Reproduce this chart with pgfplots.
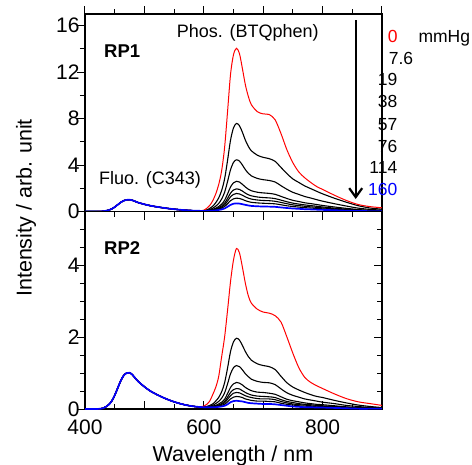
\documentclass[border=0pt]{standalone}
\usepackage{fontspec}
\setmainfont{Liberation Sans}
\usepackage{pgfplots}
\usepackage{pgfplotstable}
\pgfplotsset{compat=1.18}
\usepgfplotslibrary{groupplots}
\usetikzlibrary{arrows.meta}

% RP1: r = 0 mmHg, a..f = 7.6, 19, 38, 57, 76, 114 mmHg, g = 160 mmHg
\pgfplotstableread{
wl r a b c d e f g
400 0 0 0 0 0 0 0 0
420 0 0 0 0 0 0 0 0
430 0.02 0.02 0.02 0.02 0.02 0.02 0.02 0.02
435 0.06 0.06 0.06 0.06 0.06 0.06 0.06 0.06
440 0.12 0.12 0.12 0.12 0.12 0.12 0.12 0.12
445 0.22 0.22 0.22 0.22 0.22 0.22 0.22 0.22
450 0.38 0.38 0.38 0.38 0.38 0.38 0.38 0.38
455 0.58 0.58 0.58 0.58 0.58 0.58 0.58 0.58
460 0.78 0.78 0.78 0.78 0.78 0.78 0.78 0.78
465 0.93 0.93 0.93 0.93 0.93 0.93 0.93 0.93
470 1.00 1.00 1.00 1.00 1.00 1.00 1.00 1.00
475 1.02 1.02 1.02 1.02 1.02 1.02 1.02 1.02
480 0.96 0.96 0.96 0.96 0.96 0.96 0.96 0.96
485 0.86 0.86 0.86 0.86 0.86 0.86 0.86 0.86
490 0.76 0.76 0.76 0.76 0.76 0.76 0.76 0.76
500 0.62 0.62 0.62 0.62 0.62 0.62 0.62 0.62
510 0.50 0.50 0.50 0.50 0.50 0.50 0.50 0.50
520 0.41 0.41 0.41 0.41 0.41 0.41 0.41 0.41
530 0.33 0.33 0.33 0.33 0.33 0.33 0.33 0.33
540 0.26 0.26 0.26 0.26 0.26 0.26 0.26 0.26
550 0.20 0.20 0.20 0.20 0.20 0.20 0.20 0.20
560 0.15 0.15 0.15 0.15 0.15 0.15 0.15 0.15
570 0.11 0.11 0.11 0.11 0.11 0.11 0.11 0.11
580 0.08 0.08 0.08 0.08 0.08 0.08 0.08 0.08
590 0.06 0.06 0.06 0.06 0.06 0.06 0.06 0.06
600 0.10 0.09 0.07 0.06 0.06 0.06 0.06 0.05
605 0.28 0.14 0.10 0.08 0.07 0.07 0.06 0.05
610 0.52 0.27 0.17 0.12 0.10 0.09 0.07 0.06
615 0.92 0.45 0.28 0.18 0.14 0.12 0.10 0.07
620 1.50 0.75 0.45 0.28 0.22 0.18 0.14 0.10
625 2.30 1.16 0.69 0.42 0.32 0.26 0.20 0.13
630 3.50 1.80 1.07 0.63 0.48 0.38 0.29 0.18
635 5.50 2.80 1.65 0.96 0.72 0.57 0.43 0.26
640 8.60 4.40 2.58 1.51 1.13 0.90 0.67 0.41
645 11.80 6.14 3.60 2.11 1.58 1.26 0.93 0.57
650 13.50 7.20 4.23 2.47 1.85 1.47 1.09 0.67
655 14.05 7.58 4.45 2.60 1.95 1.55 1.15 0.70
660 13.60 7.39 4.34 2.54 1.90 1.51 1.12 0.68
665 12.30 6.82 4.00 2.34 1.76 1.40 1.04 0.63
670 10.90 6.14 3.60 2.11 1.58 1.26 0.93 0.57
675 9.90 5.61 3.29 1.92 1.44 1.15 0.85 0.52
680 9.20 5.23 3.07 1.79 1.35 1.07 0.79 0.48
690 8.60 4.85 2.85 1.66 1.25 0.99 0.74 0.45
700 8.40 4.66 2.74 1.60 1.20 0.95 0.71 0.43
710 8.35 4.55 2.67 1.56 1.17 0.93 0.69 0.42
720 7.90 4.32 2.54 1.48 1.11 0.88 0.66 0.40
730 6.70 3.79 2.22 1.30 0.98 0.78 0.58 0.35
740 5.30 3.26 1.91 1.12 0.84 0.67 0.49 0.30
750 4.20 2.80 1.65 0.96 0.72 0.57 0.43 0.26
760 3.40 2.50 1.47 0.86 0.64 0.51 0.38 0.23
770 2.90 2.20 1.29 0.75 0.57 0.45 0.33 0.20
780 2.50 1.97 1.16 0.68 0.51 0.40 0.30 0.18
790 2.15 1.74 1.02 0.60 0.45 0.36 0.26 0.16
800 1.90 1.52 0.89 0.52 0.39 0.31 0.23 0.14
820 1.40 1.14 0.67 0.39 0.29 0.23 0.17 0.11
840 0.95 0.80 0.47 0.27 0.20 0.16 0.12 0.07
860 0.60 0.50 0.29 0.17 0.13 0.10 0.08 0.05
880 0.42 0.30 0.18 0.10 0.08 0.06 0.05 0.03
900 0.32 0.20 0.12 0.07 0.05 0.04 0.03 0.02
}\rpone

% RP2, same columns
\pgfplotstableread{
wl r a b c d e f g
400 0 0 0 0 0 0 0 0
420 0 0 0 0 0 0 0 0
430 0.02 0.02 0.02 0.02 0.02 0.02 0.02 0.02
435 0.06 0.06 0.06 0.06 0.06 0.06 0.06 0.06
440 0.12 0.12 0.12 0.12 0.12 0.12 0.12 0.12
445 0.22 0.22 0.22 0.22 0.22 0.22 0.22 0.22
450 0.38 0.38 0.38 0.38 0.38 0.38 0.38 0.38
455 0.58 0.58 0.58 0.58 0.58 0.58 0.58 0.58
460 0.78 0.78 0.78 0.78 0.78 0.78 0.78 0.78
465 0.93 0.93 0.93 0.93 0.93 0.93 0.93 0.93
470 1.00 1.00 1.00 1.00 1.00 1.00 1.00 1.00
475 1.01 1.01 1.01 1.01 1.01 1.01 1.01 1.01
480 0.95 0.95 0.95 0.95 0.95 0.95 0.95 0.95
485 0.85 0.85 0.85 0.85 0.85 0.85 0.85 0.85
490 0.76 0.76 0.76 0.76 0.76 0.76 0.76 0.76
500 0.62 0.62 0.62 0.62 0.62 0.62 0.62 0.62
510 0.50 0.50 0.50 0.50 0.50 0.50 0.50 0.50
520 0.41 0.41 0.41 0.41 0.41 0.41 0.41 0.41
530 0.33 0.33 0.33 0.33 0.33 0.33 0.33 0.33
540 0.26 0.26 0.26 0.26 0.26 0.26 0.26 0.26
550 0.20 0.20 0.20 0.20 0.20 0.20 0.20 0.20
560 0.15 0.15 0.15 0.15 0.15 0.15 0.15 0.15
570 0.11 0.11 0.11 0.11 0.11 0.11 0.11 0.11
580 0.08 0.08 0.08 0.08 0.08 0.08 0.08 0.08
590 0.06 0.06 0.06 0.06 0.06 0.06 0.06 0.06
600 0.08 0.06 0.06 0.05 0.05 0.05 0.05 0.05
605 0.13 0.07 0.06 0.05 0.05 0.05 0.05 0.05
610 0.22 0.10 0.08 0.06 0.06 0.05 0.05 0.05
615 0.40 0.14 0.10 0.08 0.07 0.06 0.05 0.05
620 0.60 0.22 0.15 0.10 0.08 0.07 0.06 0.05
625 0.90 0.32 0.21 0.14 0.11 0.09 0.08 0.06
630 1.45 0.48 0.30 0.19 0.15 0.13 0.10 0.07
635 2.00 0.73 0.45 0.27 0.21 0.17 0.13 0.09
640 2.75 1.14 0.70 0.43 0.33 0.27 0.20 0.13
645 3.55 1.60 0.98 0.60 0.46 0.37 0.28 0.19
650 4.15 1.87 1.15 0.70 0.54 0.44 0.33 0.22
655 4.47 1.97 1.21 0.74 0.57 0.46 0.35 0.23
660 4.35 1.92 1.18 0.72 0.56 0.45 0.34 0.22
665 3.95 1.77 1.09 0.67 0.51 0.41 0.32 0.21
670 3.50 1.60 0.98 0.60 0.46 0.37 0.28 0.19
675 3.15 1.46 0.90 0.55 0.42 0.34 0.26 0.17
680 2.95 1.36 0.83 0.51 0.39 0.32 0.24 0.16
690 2.78 1.26 0.77 0.47 0.36 0.29 0.22 0.15
700 2.70 1.21 0.74 0.46 0.35 0.28 0.22 0.14
710 2.67 1.18 0.73 0.44 0.34 0.28 0.21 0.14
720 2.60 1.10 0.68 0.41 0.32 0.26 0.20 0.13
730 2.42 0.91 0.56 0.34 0.26 0.21 0.16 0.11
740 2.00 0.73 0.45 0.27 0.21 0.17 0.13 0.09
750 1.55 0.61 0.38 0.23 0.18 0.14 0.11 0.07
760 1.15 0.53 0.33 0.20 0.15 0.12 0.09 0.06
770 0.88 0.46 0.28 0.17 0.13 0.11 0.08 0.05
780 0.74 0.40 0.25 0.15 0.12 0.09 0.07 0.05
790 0.65 0.35 0.22 0.13 0.10 0.08 0.06 0.04
800 0.57 0.32 0.19 0.12 0.09 0.07 0.06 0.04
820 0.42 0.24 0.15 0.09 0.07 0.06 0.04 0.03
840 0.29 0.17 0.10 0.06 0.05 0.04 0.03 0.02
860 0.20 0.11 0.07 0.04 0.03 0.03 0.02 0.01
880 0.15 0.07 0.04 0.03 0.02 0.02 0.01 0.01
900 0.10 0.04 0.03 0.02 0.01 0.01 0.01 0.01
}\rptwo

\pgfplotsset{
  blk/.style={black, line width=1.1pt, smooth},
  redc/.style={red, line width=1pt, smooth},
  bluec/.style={blue, line width=1.7pt, smooth},
}

\begin{document}
\begin{tikzpicture}
\begin{groupplot}[
  group style={group size=1 by 2, vertical sep=0pt},
  scale only axis, width=297pt, height=197.5pt,
  xmin=400, xmax=900,
  xtick={400,500,...,900}, minor x tick num=1,
  axis line style={line width=1.1pt},
  tick style={black, line width=1pt},
  major tick length=8pt, minor tick length=5pt,
  tick label style={font=\fontsize{21}{24}\selectfont},
  yticklabel style={xshift=6pt},
  xticklabel style={yshift=-7pt},
  /pgf/number format/assume math mode=true,
]
% upper panel, RP1
\nextgroupplot[
  ymin=0, ymax=17, ytick={0,4,...,16}, minor y tick num=1,
  xtick pos=right, xticklabels={}, xtick align=outside,
  ytick pos=left, ytick align=outside]
\foreach \c in {a,b,c,d,e,f} {
  \addplot[blk] table[x=wl, y=\c] {\rpone};
}
\addplot[redc] table[x=wl, y=r] {\rpone};
\addplot[bluec] table[x=wl, y=g] {\rpone};

% lower panel, RP2
\nextgroupplot[
  ymin=0, ymax=5.5, ytick={0,2,4}, minor ytick={0.5,1,...,5.5},
  xtick pos=both, xticklabel pos=left, xtick align=inside,
  xticklabels={400,,600,,800,},
  ytick pos=left, ytick align=outside]
\foreach \c in {a,b,c,d,e,f} {
  \addplot[blk] table[x=wl, y=\c] {\rptwo};
}
\addplot[redc] table[x=wl, y=r] {\rptwo};
\addplot[bluec] table[x=wl, y=g] {\rptwo};
% inward ticks on the right edge
\pgfplotsinvokeforeach{0.5,1,...,5.5}{
  \draw[line width=1pt] (axis cs:900,#1) -- ++(-5pt,0pt);
}
\draw[line width=1pt] (axis cs:900,2) -- ++(-8pt,0pt);
\draw[line width=1pt] (axis cs:900,4) -- ++(-8pt,0pt);
\coordinate (B) at (rel axis cs:0,0);
\end{groupplot}

\pgfresetboundingbox
\begin{scope}[shift={(B)}, x=1pt, y=1pt, shift={(-85,-55)}]
\useasboundingbox (0,0) rectangle (472,464);

% labels
\node[anchor=base, inner sep=0pt, font=\fontsize{21.5}{24}\selectfont] at (233,2.5) {Wavelength / nm};
\node[anchor=base, rotate=90, inner sep=0pt, font=\fontsize{21.5}{24}\selectfont] at (31.7,256) {Intensity / arb. unit};

\node[anchor=base west, inner sep=0pt, font=\bfseries\fontsize{18.5}{20}\selectfont] at (104,406.3) {RP1};
\node[anchor=base west, inner sep=0pt, font=\bfseries\fontsize{18.5}{20}\selectfont] at (104,209.7) {RP2};
\node[anchor=base west, inner sep=0pt, font=\fontsize{18}{20}\selectfont] at (176.7,426.3) {Phos. (BTQphen)};
\node[anchor=base west, inner sep=0pt, font=\fontsize{18}{20}\selectfont] at (99,279.7) {Fluo. (C343)};

% oxygen pressure key
\begin{scope}[every node/.style={inner sep=0pt, font=\fontsize{17.5}{20}\selectfont}]
\node[anchor=base east, text=red] at (397.7,421.7) {0};
\node[anchor=base west] at (418.3,421.7) {mmHg};
\node[anchor=base east] at (413.3,400) {7.6};
\node[anchor=base east] at (397.5,378.3) {19};
\node[anchor=base east] at (397.5,356.7) {38};
\node[anchor=base east] at (397.5,334) {57};
\node[anchor=base east] at (397.5,311.7) {76};
\node[anchor=base east] at (397.5,290.7) {114};
\node[anchor=base east, text=blue] at (397.5,269) {160};
\end{scope}
\draw[line width=2.2pt, -{Straight Barb[length=9pt, width=13pt]}] (355.7,444) -- (355.7,265);
\end{scope}
\end{tikzpicture}
\end{document}
